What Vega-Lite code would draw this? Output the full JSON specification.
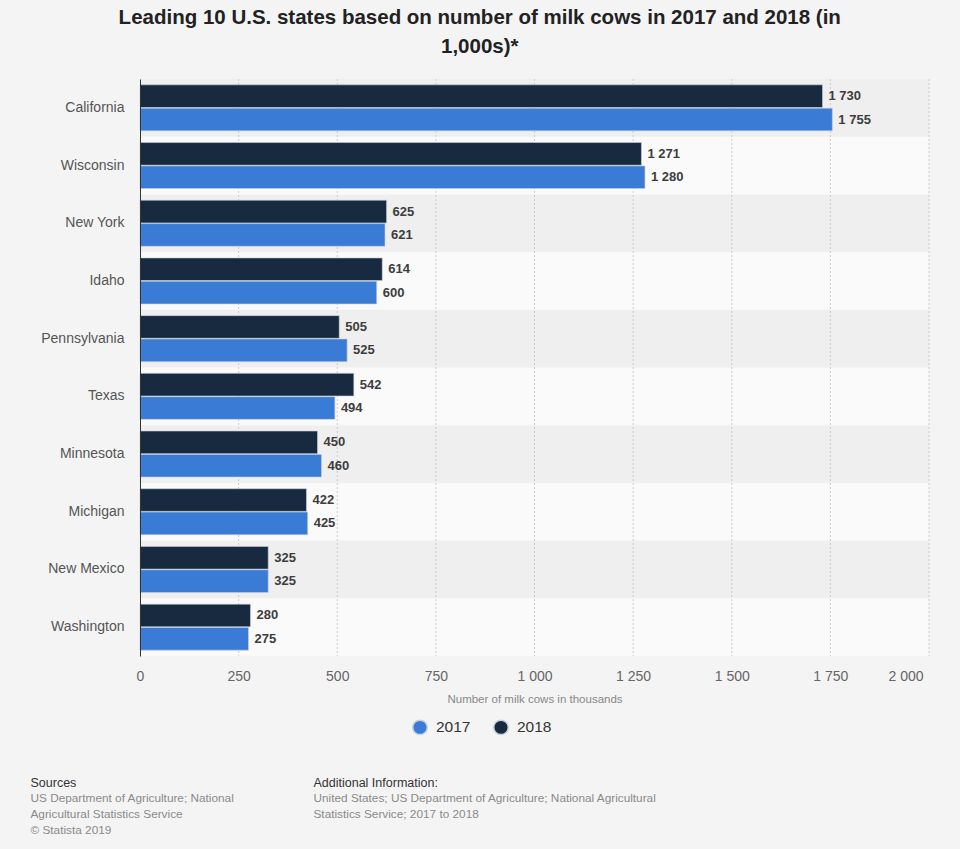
{
  "$schema": "https://vega.github.io/schema/vega-lite/v6.json",
  "background": "#f4f4f4",
  "padding": {"left": 0, "top": 7, "right": 31, "bottom": 15},
  "config": {
    "font": "Liberation Sans",
    "view": {"stroke": null},
    "locale": {"number": {"decimal": ".", "thousands": " ", "grouping": [3], "currency": ["$", ""]}}
  },
  "title": {
    "text": ["Leading 10 U.S. states based on number of milk cows in 2017 and 2018 (in", "1,000s)*"],
    "fontSize": 20.5, "fontWeight": "bold", "color": "#222", "lineHeight": 29.5, "anchor": "middle", "offset": 21, "dx": 15
  },
  "datasets": {
    "cows": [
      {"state": "California", "year": "2018", "value": 1730},
      {"state": "California", "year": "2017", "value": 1755},
      {"state": "Wisconsin", "year": "2018", "value": 1271},
      {"state": "Wisconsin", "year": "2017", "value": 1280},
      {"state": "New York", "year": "2018", "value": 625},
      {"state": "New York", "year": "2017", "value": 621},
      {"state": "Idaho", "year": "2018", "value": 614},
      {"state": "Idaho", "year": "2017", "value": 600},
      {"state": "Pennsylvania", "year": "2018", "value": 505},
      {"state": "Pennsylvania", "year": "2017", "value": 525},
      {"state": "Texas", "year": "2018", "value": 542},
      {"state": "Texas", "year": "2017", "value": 494},
      {"state": "Minnesota", "year": "2018", "value": 450},
      {"state": "Minnesota", "year": "2017", "value": 460},
      {"state": "Michigan", "year": "2018", "value": 422},
      {"state": "Michigan", "year": "2017", "value": 425},
      {"state": "New Mexico", "year": "2018", "value": 325},
      {"state": "New Mexico", "year": "2017", "value": 325},
      {"state": "Washington", "year": "2018", "value": 280},
      {"state": "Washington", "year": "2017", "value": 275}
    ],
    "ticks": [{"v": 250}, {"v": 500}, {"v": 750}, {"v": 1000}, {"v": 1250}, {"v": 1500}, {"v": 1750}, {"v": 2000}],
    "footer": [
      {"line": 0, "sources": "Sources", "additional": "Additional Information:"},
      {"line": 1, "sources": "US Department of Agriculture; National", "additional": "United States; US Department of Agriculture; National Agricultural"},
      {"line": 2, "sources": "Agricultural Statistics Service", "additional": "Statistics Service; 2017 to 2018"},
      {"line": 3, "sources": "© Statista 2019", "additional": " "}
    ]
  },
  "vconcat": [
    {
      "width": 789,
      "height": 577,
      "view": {"fill": "#fafafa"},
      "layer": [
        {
          "data": {"name": "cows"},
          "transform": [
            {"filter": "datum.year == '2017'"},
            {"window": [{"op": "row_number", "as": "idx"}]},
            {"filter": "datum.idx % 2 == 1"}
          ],
          "mark": {"type": "rect", "color": "#efefef"},
          "encoding": {
            "y": {"field": "state", "type": "nominal", "sort": ["California", "Wisconsin", "New York", "Idaho", "Pennsylvania", "Texas", "Minnesota", "Michigan", "New Mexico", "Washington"]}
          }
        },
        {
          "data": {"name": "ticks"},
          "mark": {"type": "rule", "color": "#cccccc", "strokeDash": [2, 2], "strokeWidth": 1},
          "encoding": {
            "x": {"field": "v", "type": "quantitative"}
          }
        },
        {
          "data": {"name": "cows"},
          "mark": {"type": "bar", "stroke": "#c8d0dc", "strokeWidth": 0.6},
          "encoding": {
            "y": {
              "field": "state", "type": "nominal",
              "sort": ["California", "Wisconsin", "New York", "Idaho", "Pennsylvania", "Texas", "Minnesota", "Michigan", "New Mexico", "Washington"],
              "scale": {"paddingInner": 0, "paddingOuter": 0},
              "axis": {
                "title": null, "ticks": false, "labelFontSize": 14, "labelColor": "#555", "labelPadding": 16,
                "domainColor": "#333", "domainWidth": 1, "minExtent": 140, "maxExtent": 140
              }
            },
            "x": {
              "field": "value", "type": "quantitative",
              "scale": {"domain": [0, 2000], "nice": false},
              "axis": {
                "values": [0, 250, 500, 750, 1000, 1250, 1500, 1750, 2000],
                "format": ",d", "grid": false, "domain": false, "ticks": false,
                "labelFontSize": 14, "labelColor": "#666", "labelPadding": 13,
                "labelAlign": {"condition": {"test": "datum.value == 2000", "value": "right"}, "value": "center"},
                "labelOffset": {"condition": {"test": "datum.value == 2000", "value": -6}, "value": 0},
                "title": "Number of milk cows in thousands", "titleFontSize": 11.5, "titleFontWeight": "normal",
                "titleColor": "#888", "titlePadding": 10
              }
            },
            "yOffset": {"field": "year", "type": "nominal", "sort": ["2018", "2017"], "scale": {"paddingOuter": 0.25, "paddingInner": 0.03}},
            "color": {
              "field": "year", "type": "nominal",
              "scale": {"domain": ["2017", "2018"], "range": ["#3a7bd5", "#172a3f"]},
              "legend": {
                "orient": "none", "legendX": 272, "legendY": 640, "direction": "horizontal", "title": null, "symbolType": "circle",
                "symbolSize": 210, "labelFontSize": 15.5, "labelColor": "#333", "columnPadding": 19, "labelOffset": 8
              }
            }
          }
        },
        {
          "data": {"name": "cows"},
          "mark": {"type": "text", "align": "left", "dx": 6, "fontWeight": "bold", "fontSize": 13, "color": "#3d3d3d"},
          "encoding": {
            "y": {"field": "state", "type": "nominal", "sort": ["California", "Wisconsin", "New York", "Idaho", "Pennsylvania", "Texas", "Minnesota", "Michigan", "New Mexico", "Washington"]},
            "x": {"field": "value", "type": "quantitative"},
            "yOffset": {"field": "year", "type": "nominal", "sort": ["2018", "2017"]},
            "text": {"field": "value", "type": "quantitative", "format": ",d"}
          }
        }
      ]
    },
    {
      "width": 173,
      "height": 47,
      "data": {"name": "footer"},
      "encoding": {
        "x": {"datum": 0.5, "type": "quantitative", "scale": {"domain": [0, 1]}, "axis": null}
      },
      "layer": [
        {
          "mark": {"type": "point", "opacity": 0},
          "encoding": {
            "y": {
              "field": "sources", "type": "nominal", "sort": {"field": "line", "op": "min"},
              "scale": {"type": "point", "padding": 0},
              "axis": {
                "orient": "left", "title": null, "domain": false, "ticks": false, "labelAlign": "left", "labelPadding": 110,
                "minExtent": 140, "maxExtent": 140, "labelLimit": 500,
                "labelFontSize": {"condition": {"test": "datum.value == 'Sources'", "value": 12.5}, "value": 11.8},
                "labelColor": {"condition": {"test": "datum.value == 'Sources'", "value": "#333"}, "value": "#8a8a8a"}
              }
            }
          }
        },
        {
          "mark": {"type": "point", "opacity": 0},
          "encoding": {
            "y": {
              "field": "additional", "type": "nominal", "sort": {"field": "line", "op": "min"},
              "scale": {"type": "point", "padding": 0},
              "axis": {
                "orient": "right", "title": null, "domain": false, "ticks": false, "labelAlign": "left", "labelPadding": 0,
                "labelLimit": 500,
                "labelFontSize": {"condition": {"test": "datum.value == 'Additional Information:'", "value": 12.5}, "value": 11.8},
                "labelColor": {"condition": {"test": "datum.value == 'Additional Information:'", "value": "#333"}, "value": "#8a8a8a"}
              }
            }
          }
        }
      ],
      "resolve": {"scale": {"y": "independent"}}
    }
  ],
  "spacing": 71
}
